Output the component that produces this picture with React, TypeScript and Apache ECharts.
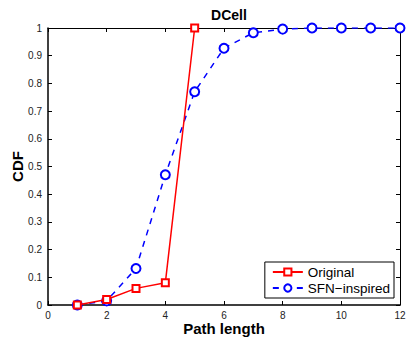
import React, { useEffect, useRef } from "react";
import * as echarts from "echarts";

const pathLengths = [1, 2, 3, 4, 5, 6, 7, 8, 9, 10, 11, 12];
const originalX = [1, 2, 3, 4, 5];
const originalCdf = [0, 0.02, 0.06, 0.08, 1];
const sfnCdf = [0, 0.015, 0.132, 0.47, 0.77, 0.927, 0.983, 0.996, 1, 1, 1, 1];
const seriesNames = ["Original", "SFN\u2212inspired"];

export default function App() {
  const ref = useRef<HTMLDivElement>(null);
  useEffect(() => {
    if (!ref.current) return;
    const chart = echarts.init(ref.current, undefined, { renderer: "svg" });
    const font = "Liberation Sans, Arial, Helvetica, sans-serif";
    chart.setOption({
      animation: false,
      backgroundColor: "#fff",
      title: {
        text: "DCell",
        left: 224,
        top: 3,
        textAlign: "center",
        textStyle: { fontFamily: font, fontWeight: "bold", fontSize: 14, color: "#000" },
      },
      grid: { left: 48, right: 9, top: 28, bottom: 36, outerBoundsMode: "none", containLabel: false },
      legend: {
        orient: "vertical",
        right: 15,
        top: 262,
        itemWidth: 30,
        itemHeight: 9,
        itemGap: 2,
        padding: [3, 4, 3, 7],
        borderColor: "#000",
        borderWidth: 1,
        backgroundColor: "#fff",
        textStyle: { fontFamily: font, fontSize: 13.5, color: "#000", padding: [0, 0, 0, 0] },
        data: seriesNames,
      },
      xAxis: [
        {
          type: "value",
          min: 0,
          max: 12,
          interval: 2,
          name: "Path length",
          nameLocation: "middle",
          nameGap: 16,
          nameMoveOverlap: false,
          nameTextStyle: { fontFamily: font, fontWeight: "bold", fontSize: 15, color: "#000" },
          axisLine: { onZero: false, lineStyle: { color: "#000", width: 1.5 } },
          axisTick: { inside: true, length: 4, lineStyle: { color: "#000" } },
          axisLabel: { fontFamily: font, fontSize: 10, color: "#222", margin: 5 },
          splitLine: { show: false },
        },
        {
          type: "value",
          position: "top",
          min: 0,
          max: 12,
          interval: 2,
          axisLine: { onZero: false, lineStyle: { color: "#000", width: 1 } },
          axisTick: { inside: true, length: 4, lineStyle: { color: "#000" } },
          axisLabel: { show: false },
          splitLine: { show: false },
        },
      ],
      yAxis: [
        {
          type: "value",
          min: 0,
          max: 1,
          interval: 0.1,
          name: "CDF",
          nameLocation: "middle",
          nameGap: 23,
          nameMoveOverlap: false,
          nameTextStyle: { fontFamily: font, fontWeight: "bold", fontSize: 15, color: "#000" },
          axisLine: { onZero: false, lineStyle: { color: "#000", width: 1.5 } },
          axisTick: { inside: true, length: 4, lineStyle: { color: "#000" } },
          axisLabel: {
            fontFamily: font,
            fontSize: 10,
            color: "#222",
            margin: 6,
            formatter: (v: number) => String(Math.round(v * 10) / 10),
          },
          splitLine: { show: false },
        },
        {
          type: "value",
          position: "right",
          min: 0,
          max: 1,
          interval: 0.1,
          axisLine: { onZero: false, lineStyle: { color: "#000", width: 1 } },
          axisTick: { inside: true, length: 4, lineStyle: { color: "#000" } },
          axisLabel: { show: false },
          splitLine: { show: false },
        },
      ],
      series: [
        {
          name: seriesNames[0],
          type: "line",
          data: originalX.map((x, i) => [x, originalCdf[i]]),
          symbol: "emptyRect",
          symbolSize: 7,
          color: "#ff0000",
          lineStyle: { color: "#ff0000", width: 1.5 },
          itemStyle: { color: "#ff0000", borderColor: "#ff0000", borderWidth: 1.2 },
          z: 3,
        },
        {
          name: seriesNames[1],
          type: "line",
          data: pathLengths.map((x, i) => [x, sfnCdf[i]]),
          symbol: "emptyCircle",
          symbolSize: 9,
          color: "#0000ff",
          lineStyle: { color: "#0000ff", width: 1.5, type: [6, 6] },
          itemStyle: { color: "#0000ff", borderColor: "#0000ff", borderWidth: 1.5 },
          z: 2,
        },
      ],
    });
    return () => chart.dispose();
  }, []);
  return (
    <div
      ref={ref}
      style={{ position: "fixed", left: 0, top: 0, width: 409, height: 341 }}
    />
  );
}
